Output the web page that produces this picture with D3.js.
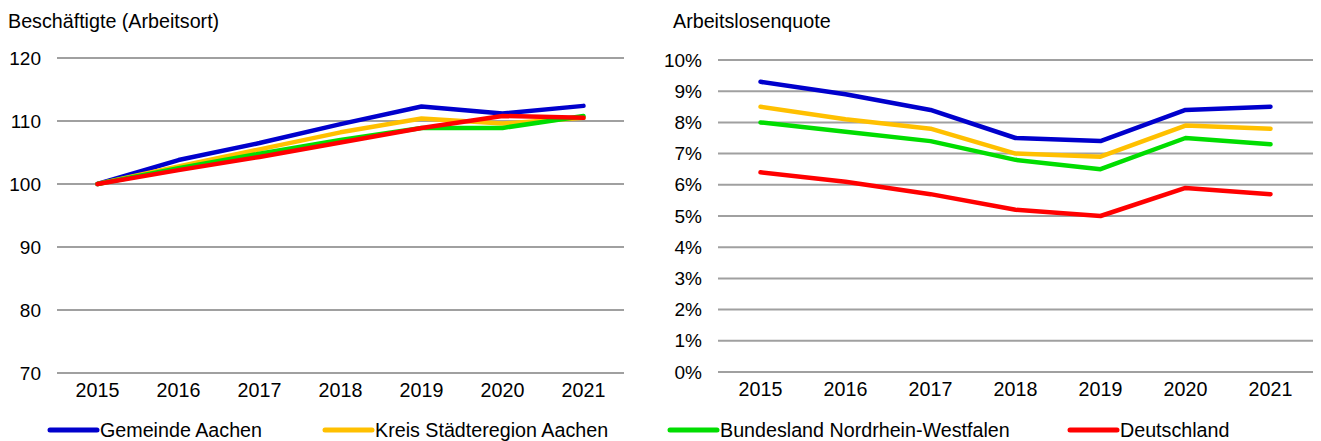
<!DOCTYPE html>
<html>
<head>
<meta charset="utf-8">
<script src="https://cdn.jsdelivr.net/npm/d3@7"></script>
<style>
  body { margin: 0; background: #fff; }
  svg text { font-family: Arial, "Liberation Sans", sans-serif; fill: #000; }
</style>
</head>
<body>
<div id="charts"></div>
<script>
var years = ['2015', '2016', '2017', '2018', '2019', '2020', '2021'];

var seriesNames = ['Gemeinde Aachen', 'Kreis Städteregion Aachen', 'Bundesland Nordrhein-Westfalen', 'Deutschland'];
var seriesColors = ['#0000cc', '#ffc000', '#00dd00', '#ff0000'];

// Beschäftigte (Arbeitsort), index 2015 = 100
var empAachen = [100, 103.8, 106.5, 109.5, 112.3, 111.2, 112.4];
var empKreis = [100, 102.8, 105.5, 108.2, 110.4, 109.6, 110.5];
var empNrw = [100, 102.5, 104.8, 107.0, 108.9, 108.9, 110.8];
var empDe = [100, 102.2, 104.3, 106.6, 108.9, 110.8, 110.5];
var empTicks = [70, 80, 90, 100, 110, 120];

// Arbeitslosenquote in %
var alqAachen = [9.3, 8.9, 8.4, 7.5, 7.4, 8.4, 8.5];
var alqKreis = [8.5, 8.1, 7.8, 7.0, 6.9, 7.9, 7.8];
var alqNrw = [8.0, 7.7, 7.4, 6.8, 6.5, 7.5, 7.3];
var alqDe = [6.4, 6.1, 5.7, 5.2, 5.0, 5.9, 5.7];
var alqTicks = [0, 1, 2, 3, 4, 5, 6, 7, 8, 9, 10];

var svg = d3.select('#charts').append('svg')
  .attr('width', 1321)
  .attr('height', 441);

function drawPanel(opts) {
  var x = d3.scaleBand().domain(years).range([opts.left, opts.right]);
  var y = d3.scaleLinear().domain(opts.domain).range([opts.bottom, opts.top]);

  svg.append('text')
    .attr('x', opts.titleX)
    .attr('y', 28)
    .style('font-size', '19.7px')
    .text(opts.title);

  var grid = svg.append('g');
  grid.selectAll('line')
    .data(opts.ticks)
    .enter().append('line')
    .attr('x1', opts.left)
    .attr('x2', opts.right)
    .attr('y1', function(d) { return y(d); })
    .attr('y2', function(d) { return y(d); })
    .attr('stroke', '#a0a0a0')
    .attr('stroke-width', 2);

  var yAxis = svg.append('g')
    .attr('transform', 'translate(' + (opts.left - 16) + ',0)')
    .call(d3.axisLeft(y).tickValues(opts.ticks).tickSize(0).tickPadding(0).tickFormat(opts.fmt));
  yAxis.select('.domain').remove();
  yAxis.selectAll('text').style('font-size', '19px').style('font-family', 'Arial, "Liberation Sans", sans-serif');

  var xAxis = svg.append('g')
    .attr('transform', 'translate(0,' + (opts.bottom + 10) + ')')
    .call(d3.axisBottom(x).tickSize(0).tickPadding(0));
  xAxis.select('.domain').remove();
  xAxis.selectAll('text').style('font-size', '19.7px').style('font-family', 'Arial, "Liberation Sans", sans-serif');

  var line = d3.line()
    .x(function(d, i) { return x(years[i]) + x.bandwidth() / 2; })
    .y(function(d) { return y(d); });

  svg.append('g').selectAll('path')
    .data(opts.series)
    .enter().append('path')
    .attr('d', function(d) { return line(d); })
    .attr('fill', 'none')
    .attr('stroke', function(d, i) { return seriesColors[i]; })
    .attr('stroke-width', 4.5)
    .attr('stroke-linejoin', 'round')
    .attr('stroke-linecap', 'round');
}

drawPanel({
  title: 'Beschäftigte (Arbeitsort)',
  titleX: 8,
  left: 57, right: 624, top: 58, bottom: 373,
  domain: [70, 120],
  ticks: empTicks,
  fmt: function(d) { return d; },
  series: [empAachen, empKreis, empNrw, empDe]
});

drawPanel({
  title: 'Arbeitslosenquote',
  titleX: 673,
  left: 718, right: 1313, top: 60, bottom: 372,
  domain: [0, 10],
  ticks: alqTicks,
  fmt: function(d) { return d + '%'; },
  series: [alqAachen, alqKreis, alqNrw, alqDe]
});

// legend
var legendX = [50, 325, 670, 1070];
var legend = svg.append('g').selectAll('g')
  .data(seriesNames)
  .enter().append('g')
  .attr('transform', function(d, i) { return 'translate(' + legendX[i] + ',430)'; });

legend.append('line')
  .attr('x1', 0).attr('x2', 47)
  .attr('stroke', function(d, i) { return seriesColors[i]; })
  .attr('stroke-width', 5)
  .attr('stroke-linecap', 'round');

legend.append('text')
  .attr('x', 50)
  .attr('dy', '0.36em')
  .style('font-size', '19.7px')
  .text(function(d) { return d; });
</script>
</body>
</html>
